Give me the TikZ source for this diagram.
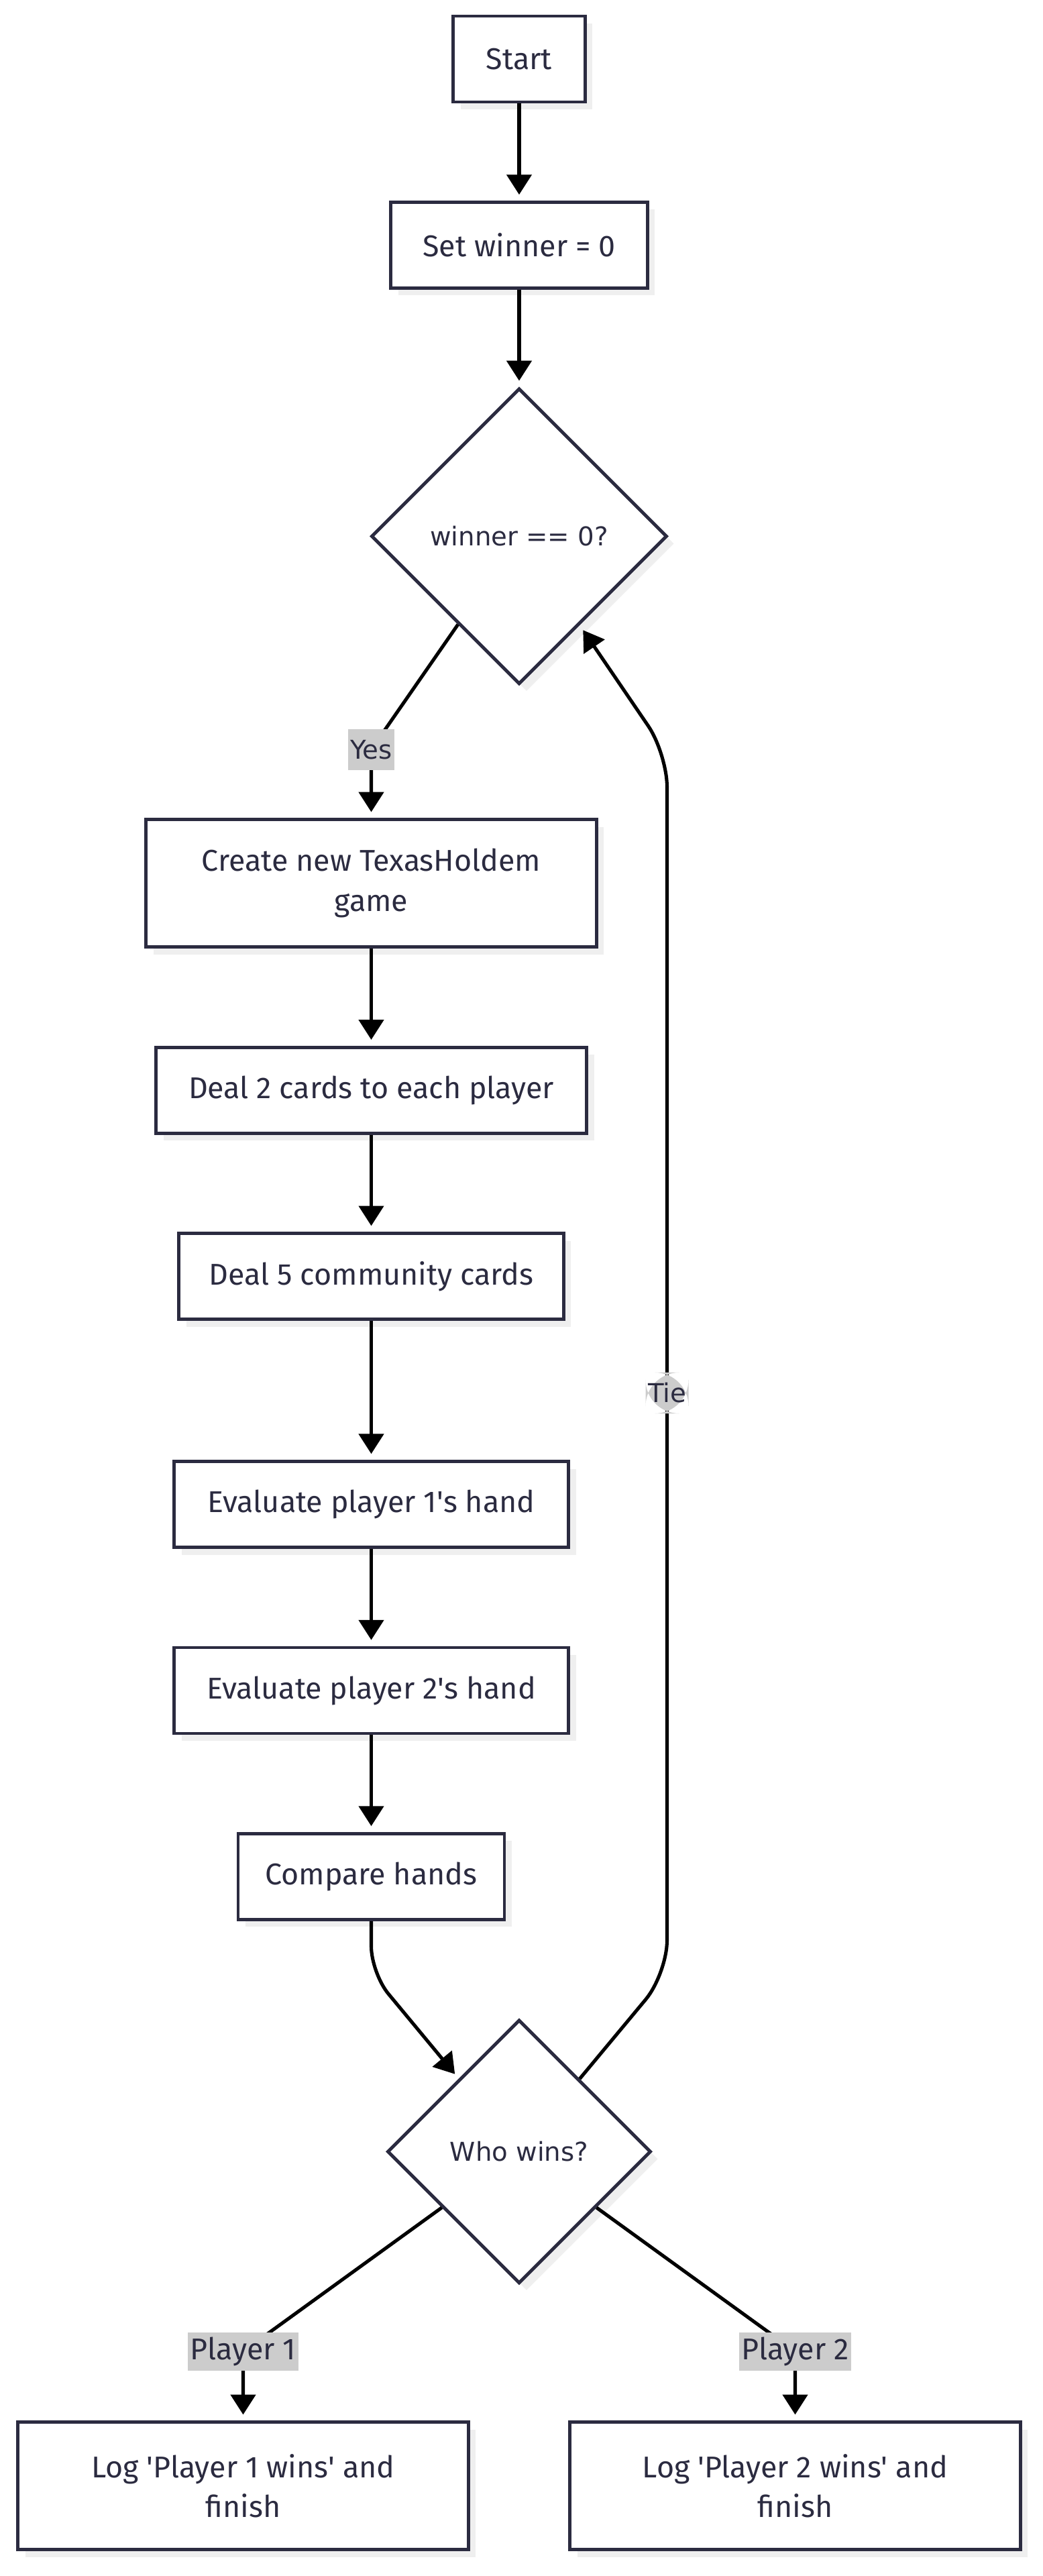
\documentclass[tikz,border=0pt]{standalone}
\usepackage{fontspec}
\setmainfont{Fira Sans}
\newfontfamily\dejavu{DejaVu Sans}
\usetikzlibrary{arrows.meta,positioning,shapes.geometric,shadows}

\definecolor{ink}{HTML}{2B2B40}
\definecolor{shade}{HTML}{EFEFEF}
\definecolor{lblgray}{HTML}{CCCCCC}

\begin{document}
\begin{tikzpicture}[
    >={Triangle[width=21pt,length=17pt]},
    node distance=2.89cm,
    proc/.style={rectangle,draw=ink,line width=2.8pt,fill=white,text=ink,
      minimum height=2.56cm,align=center,font=\fontsize{25.5}{34}\selectfont,
      drop shadow={shadow xshift=.22cm,shadow yshift=-.22cm,fill=shade,opacity=1}},
    decision/.style={diamond,aspect=1,draw=ink,line width=2.8pt,fill=white,text=ink,
      inner sep=0pt,font=\dejavu\fontsize{22}{26}\selectfont,
      drop shadow={shadow xshift=.22cm,shadow yshift=-.22cm,fill=shade,opacity=1}},
    lbl/.style={fill=lblgray,text=ink,inner xsep=2pt,inner ysep=0pt,minimum height=1.22cm,
      font=\dejavu\fontsize{22}{26}\selectfont},
    plbl/.style={lbl,minimum height=1.14cm,font=\fontsize{25.5}{30}\selectfont},
    flow/.style={draw,->,line width=2.9pt,shorten >=5pt},
    every edge/.style={flow}
  ]
    \useasboundingbox (0,0) rectangle (31.08,-76.8);

    \node[proc,minimum width=3.93cm] (start) at (15.48,-1.76) {Start};
    \node[proc,minimum width=7.65cm] (setw) [below=of start] {Set winner = 0};
    \node[decision,minimum size=8.82cm] (d1) [below=of setw] {winner == 0?};
    \node[proc,minimum width=13.43cm,minimum height=3.8cm] (create) [below=3.94cm of d1,xshift=-4.41cm] {Create new TexasHoldem\\game};
    \node[proc,minimum width=12.84cm] (deal2) [below=of create] {Deal 2 cards to each player};
    \node[proc,minimum width=11.47cm] (deal5) [below=of deal2] {Deal 5 community cards};
    \node[proc,minimum width=11.76cm] (eval1) [below=4.14cm of deal5] {Evaluate player 1\textquotesingle s hand};
    \node[proc,minimum width=11.76cm] (eval2) [below=of eval1] {Evaluate player 2\textquotesingle s hand};
    \node[proc,minimum width=7.94cm] (compare) [below=of eval2] {Compare hands};
    \node[decision,minimum size=7.86cm] (d2) [below=of compare,xshift=4.41cm] {Who wins?};
    \node[proc,minimum width=13.43cm,minimum height=3.8cm] (log1) [below=4.04cm of d2,xshift=-8.23cm] {Log \textquotesingle Player 1 wins\textquotesingle{} and\\finish};
    \node[proc,minimum width=13.43cm,minimum height=3.8cm] (log2) [below=4.04cm of d2,xshift=8.23cm] {Log \textquotesingle Player 2 wins\textquotesingle{} and\\finish};

    \coordinate[above=2.04cm of create] (yesbend);
    \coordinate[below=1.55cm of compare] (cmpbend);
    \coordinate[above right=5.3cm and 4.41cm of d2.center] (tielow);
    \coordinate[below right=6.48cm and 4.41cm of d1.center] (tiehigh);
    \coordinate[above=2.06cm of log1] (p1bend);
    \coordinate[above=2.06cm of log2] (p2bend);

    \path (start) edge (setw)
          (setw) edge (d1)
          (create) edge (deal2)
          (deal2) edge (deal5)
          (deal5) edge (eval1)
          (eval1) edge (eval2)
          (eval2) edge (compare);

    \draw[flow] (d1) -- (yesbend) node[lbl] {Yes} -- (create);
    \draw[flow,rounded corners=.8cm] (compare) -- (cmpbend) -- (d2);
    \draw[flow,rounded corners=1cm] (d2) -- (tielow) -- node[lbl,pos=.476] {Tie} (tiehigh) -- (d1);
    \draw[flow] (d2) -- (p1bend) node[plbl] {Player 1} -- (log1);
    \draw[flow] (d2) -- (p2bend) node[plbl] {Player 2} -- (log2);
  \end{tikzpicture}
\end{document}
